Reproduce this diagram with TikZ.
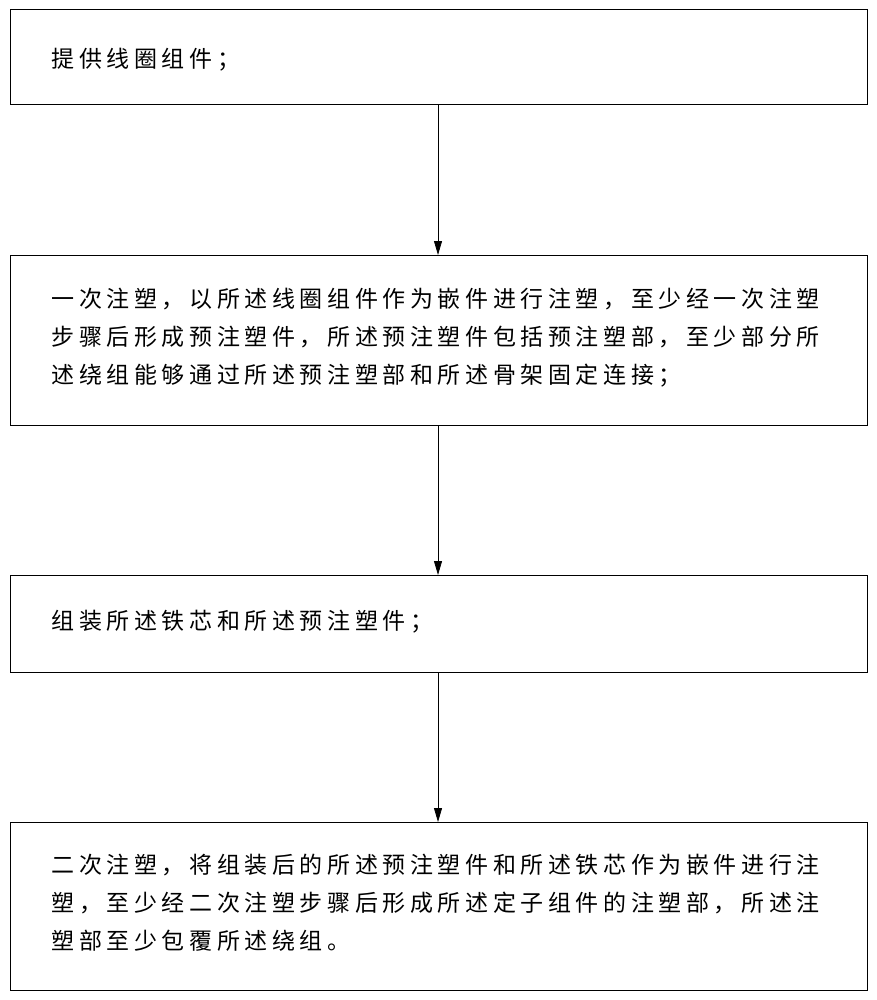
\documentclass[tikz,border=0pt]{standalone}
\usepackage{fontspec}
\newfontfamily\cjk{Noto Sans CJK SC}
\usetikzlibrary{arrows.meta}
\begin{document}
\begin{tikzpicture}[x=1pt,y=-1pt,
  stepbox/.style={draw,line width=1pt},
  txt/.style={anchor=west,align=left,font=\cjk\fontsize{23}{38}\selectfont\addfontfeatures{LetterSpace=20}},
  arr/.style={-{Triangle[length=14pt,width=8pt]},line width=0.8pt}]
\useasboundingbox (0,0) rectangle (877,1000);
\draw[stepbox] (10,10) rectangle (867,105);
\draw[stepbox] (10,255) rectangle (867,425);
\draw[stepbox] (10,575) rectangle (867,672);
\draw[stepbox] (10,822) rectangle (867,990);
\coordinate (b1) at (438,105); \coordinate (t2) at (438,255);
\coordinate (b2) at (438,425); \coordinate (t3) at (438,575);
\coordinate (b3) at (438,672); \coordinate (t4) at (438,822);
\node[txt] (n1) at (48,60) {提供线圈组件；};
\node[txt] (n2) at (48,338) {一次注塑，以所述线圈组件作为嵌件进行注塑，至少经一次注塑\\步骤后形成预注塑件，所述预注塑件包括预注塑部，至少部分所\\述绕组能够通过所述预注塑部和所述骨架固定连接；};
\node[txt] (n3) at (48,622) {组装所述铁芯和所述预注塑件；};
\node[txt] (n4) at (48,903) {二次注塑，将组装后的所述预注塑件和所述铁芯作为嵌件进行注\\塑，至少经二次注塑步骤后形成所述定子组件的注塑部，所述注\\塑部至少包覆所述绕组。};
\draw[arr] (b1) -- (t2);
\draw[arr] (b2) -- (t3);
\draw[arr] (b3) -- (t4);
\end{tikzpicture}
\end{document}
